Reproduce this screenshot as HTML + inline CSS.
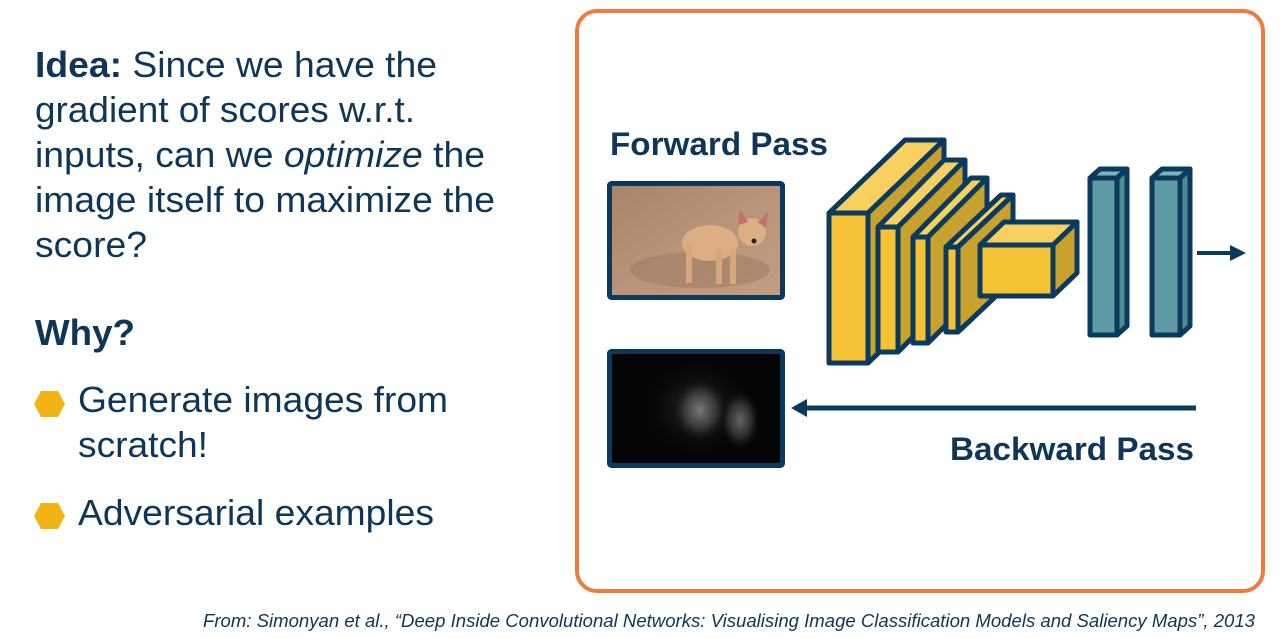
<!DOCTYPE html>
<html><head><meta charset="utf-8"><style>
html,body{margin:0;padding:0;background:#fff;}
svg{display:block;font-family:"Liberation Sans",Arial,sans-serif;}
</style></head><body>
<svg width="1280" height="638" viewBox="0 0 1280 638" xmlns="http://www.w3.org/2000/svg">
<defs>
<radialGradient id="sal1" cx="0.5" cy="0.5" r="0.5"><stop offset="0" stop-color="#8a8a8a"/><stop offset="0.6" stop-color="#3a3a3a"/><stop offset="1" stop-color="#0a0a0a" stop-opacity="0"/></radialGradient>
<radialGradient id="sal2" cx="0.5" cy="0.5" r="0.5"><stop offset="0" stop-color="#303030"/><stop offset="1" stop-color="#050505" stop-opacity="0"/></radialGradient>
<linearGradient id="ground" x1="0" y1="0" x2="1" y2="1"><stop offset="0" stop-color="#a88468"/><stop offset="0.5" stop-color="#b99479"/><stop offset="1" stop-color="#c19d82"/></linearGradient>
</defs>
<g fill="#0f3558" font-size="36">
<text x="35" y="77" textLength="402" lengthAdjust="spacingAndGlyphs"><tspan font-weight="bold">Idea:</tspan> Since we have the</text>
<text x="35" y="122" textLength="380" lengthAdjust="spacingAndGlyphs">gradient of scores w.r.t.</text>
<text x="35" y="167" textLength="450" lengthAdjust="spacingAndGlyphs">inputs, can we <tspan font-style="italic">optimize</tspan> the</text>
<text x="35" y="212" textLength="460" lengthAdjust="spacingAndGlyphs">image itself to maximize the</text>
<text x="35" y="257" textLength="112" lengthAdjust="spacingAndGlyphs">score?</text>
<text x="35" y="345" font-weight="bold" textLength="100" lengthAdjust="spacingAndGlyphs">Why?</text>
<text x="78" y="412" textLength="370" lengthAdjust="spacingAndGlyphs">Generate images from</text>
<text x="78" y="457" textLength="130" lengthAdjust="spacingAndGlyphs">scratch!</text>
<text x="78" y="525" textLength="356" lengthAdjust="spacingAndGlyphs">Adversarial examples</text>
</g>
<polygon points="34,404 41,391 58,391 65,404 58,417 41,417" fill="#f0b416"/>
<polygon points="34,516 41,503 58,503 65,516 58,529 41,529" fill="#f0b416"/>

<rect x="577" y="11" width="686" height="580" rx="20" fill="none" stroke="#ef7b3e" stroke-width="4"/>

<text x="610" y="155" font-size="32" font-weight="bold" fill="#0f3558" textLength="218" lengthAdjust="spacingAndGlyphs">Forward Pass</text>
<text x="950" y="460" font-size="32" font-weight="bold" fill="#0f3558" textLength="244" lengthAdjust="spacingAndGlyphs">Backward Pass</text>

<!-- dog image -->
<rect x="611" y="185" width="170" height="111" fill="url(#ground)"/>
<ellipse cx="700" cy="270" rx="70" ry="18" fill="#9c7860" opacity="0.5"/>
<ellipse cx="710" cy="243" rx="28" ry="18" fill="#dcae84"/>
<rect x="686" y="245" width="6" height="38" fill="#d6a67c"/>
<rect x="716" y="250" width="6" height="34" fill="#d6a67c"/>
<rect x="730" y="250" width="6" height="34" fill="#d6a67c"/>
<ellipse cx="752" cy="232" rx="14" ry="14" fill="#dcae84"/>
<polygon points="738,225 740,210 748,222" fill="#c4706a"/>
<polygon points="758,222 768,212 766,228" fill="#c4706a"/>
<circle cx="754" cy="241" r="2.5" fill="#222"/>
<rect x="609.5" y="183.5" width="173" height="114" fill="none" stroke="#0b3a5e" stroke-width="5" rx="2"/>

<!-- saliency -->
<rect x="611" y="353" width="170" height="111" fill="#050505"/>
<rect x="640" y="358" width="115" height="100" fill="url(#sal2)"/>
<ellipse cx="700" cy="410" rx="28" ry="32" fill="url(#sal1)" opacity="0.8"/>
<ellipse cx="740" cy="420" rx="20" ry="30" fill="url(#sal1)" opacity="0.7"/>
<rect x="609.5" y="351.5" width="173" height="114" fill="none" stroke="#0b3a5e" stroke-width="5" rx="2"/>

<!-- backward arrow -->
<line x1="1196" y1="408" x2="805" y2="408" stroke="#0b3a5e" stroke-width="5"/>
<polygon points="791,408 807,399 807,417" fill="#0b3a5e"/>

<!-- forward arrow -->
<line x1="1197" y1="253" x2="1232" y2="253" stroke="#0b3a5e" stroke-width="4"/>
<polygon points="1246,253 1230,245 1230,261" fill="#0b3a5e"/>

<g stroke="#0b3a5e" stroke-width="5" stroke-linejoin="round">
<polygon points="829,213 905,140 944,140 868,213" fill="#f7d060"/>
<polygon points="868,213 944,140 944,290 868,363" fill="#c9a22e"/>
<rect x="829" y="213" width="39" height="150" fill="#f6c235"/>
<polygon points="878,227 944,160 965,160 898,227" fill="#f7d060"/>
<polygon points="898,227 965,160 965,285 898,352" fill="#c9a22e"/>
<rect x="878" y="227" width="20" height="125" fill="#f6c235"/>
<polygon points="913,237 971,178 987,178 928,237" fill="#f7d060"/>
<polygon points="928,237 987,178 987,284 928,343" fill="#c9a22e"/>
<rect x="913" y="237" width="15" height="106" fill="#f6c235"/>
<polygon points="946,247 1001,195 1013,195 958,247" fill="#f7d060"/>
<polygon points="958,247 1013,195 1013,280 958,332" fill="#c9a22e"/>
<rect x="946" y="247" width="12" height="85" fill="#f6c235"/>
<polygon points="980,245 1004,222 1077,222 1053,245" fill="#f7d060"/>
<polygon points="1053,245 1077,222 1077,273 1053,296" fill="#c9a22e"/>
<rect x="980" y="245" width="73" height="51" fill="#f6c235"/>
<polygon points="1090,178 1100,169 1127,169 1117,178" fill="#7fb3bb"/>
<polygon points="1117,178 1127,169 1127,326 1117,335" fill="#4f8a94"/>
<rect x="1090" y="178" width="27" height="157" fill="#5e9aa4"/>
<polygon points="1152,178 1162,169 1190,169 1180,178" fill="#7fb3bb"/>
<polygon points="1180,178 1190,169 1190,326 1180,335" fill="#4f8a94"/>
<rect x="1152" y="178" width="28" height="157" fill="#5e9aa4"/>
</g>

<text x="203" y="627" font-size="18" font-style="italic" fill="#0f3558" textLength="1052" lengthAdjust="spacingAndGlyphs">From: Simonyan et al., “Deep Inside Convolutional Networks: Visualising Image Classification Models and Saliency Maps”, 2013</text>
</svg>
</body></html>
